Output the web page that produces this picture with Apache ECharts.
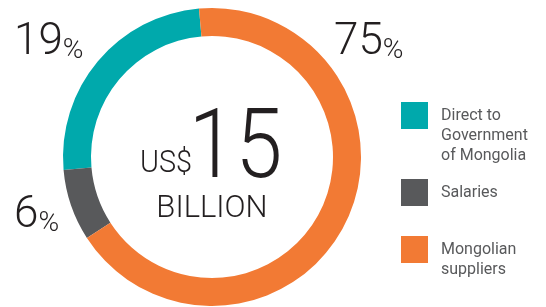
<!DOCTYPE html>
<html><head><meta charset="utf-8">
<style>html,body{margin:0;padding:0;background:#fff}#c{width:546px;height:307px}</style>
<script src="https://cdn.jsdelivr.net/npm/echarts@6/dist/echarts.min.js"></script>
</head><body><div id="c"></div>
<script>
// Categories and values
const categories = ['Direct to\nGovernment\nof Mongolia', 'Salaries', 'Mongolian\nsuppliers'];
const shareLabels = [19, 6, 75];          // printed percentages
const arcShares = [25, 7.75, 67.25];      // arc sizes as drawn in the picture
const colors = ['#00A9AC', '#58595B', '#F27A34'];
const currencyLabel = 'US$';
const totalLabel = '15';
const unitLabel = 'BILLION';

const labelPos = [[14, 65], [14, 238], [334, 65]];
const FONT = 'Roboto';
const DARK = '#231F20';

const chart = echarts.init(document.getElementById('c'), null, {renderer: 'canvas'});
chart.setOption({
  animation: false,
  legend: {
    orient: 'vertical', left: 401, top: 65.5, padding: 0,
    itemWidth: 27, itemHeight: 27, itemGap: 13.5,
    icon: 'rect', selectedMode: false,
    itemStyle: {borderWidth: 0},
    // prefix blank lines so the first text line sits level with the swatch
    formatter: name => '\n'.repeat(name.split('\n').length - 1) + name,
    textStyle: {fontFamily: FONT, fontSize: 16, color: '#58595B', lineHeight: 20, padding: [0, 0, 0, 8]},
    data: categories.slice()
  },
  series: [{
    type: 'pie',
    center: [212, 157],
    radius: [121, 149],
    startAngle: 95,
    clockwise: false,
    avoidLabelOverlap: false,
    silent: true,
    itemStyle: {borderWidth: 0},
    label: {
      show: true, position: 'outside',
      formatter: p => '{n|' + shareLabels[p.dataIndex] + '}{p|%}',
      rich: {
        n: {fontFamily: FONT, fontWeight: 300, fontSize: 44, lineHeight: 44, color: DARK, verticalAlign: 'bottom'},
        p: {fontFamily: FONT, fontWeight: 300, fontSize: 28, lineHeight: 36, color: DARK, verticalAlign: 'bottom'}
      }
    },
    labelLine: {show: false},
    labelLayout: p => ({x: labelPos[p.dataIndex][0], y: labelPos[p.dataIndex][1], align: 'left', verticalAlign: 'bottom'}),
    data: categories.map((c, i) => ({name: c, value: arcShares[i], itemStyle: {color: colors[i]}}))
  }],
  graphic: [
    {type: 'text', x: 192, y: 164.3, scaleX: 0.93, style: {text: currencyLabel, fontFamily: FONT, fontWeight: 300, fontSize: 31, fill: DARK, align: 'right', textAlign: 'right', verticalAlign: 'middle', textVerticalAlign: 'middle'}},
    {type: 'text', x: 188.7, y: 152.8, scaleX: 0.87, style: {text: totalLabel, fontFamily: FONT, fontWeight: 300, fontSize: 97, fill: DARK, align: 'left', textAlign: 'left', verticalAlign: 'middle', textVerticalAlign: 'middle'}},
    {type: 'text', x: 212, y: 209.3, style: {text: unitLabel, fontFamily: FONT, fontWeight: 300, fontSize: 31, fill: DARK, align: 'center', textAlign: 'center', verticalAlign: 'middle', textVerticalAlign: 'middle'}}
  ]
});
</script></body></html>
